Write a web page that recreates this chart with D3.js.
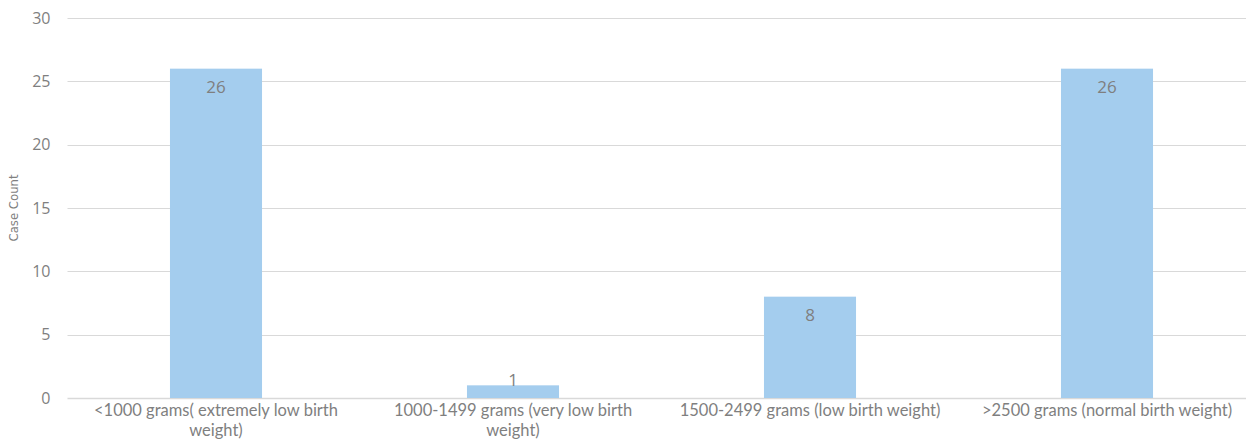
<!DOCTYPE html>
<html>
<head>
    <script src="https://d3js.org/d3.v7.min.js"></script>
    <style>
        body { margin: 0; background: #fff; }
        text { font-family: 'Open Sans', Lato, sans-serif; }
    </style>
</head>
<body>
<script>
    // chart values
    var categories = [
        "<1000 grams( extremely low birth weight)",
        "1000-1499 grams (very low birth weight)",
        "1500-2499 grams (low birth weight)",
        ">2500 grams (normal birth weight)"
    ];
    // how each category label wraps in the original
    var categoryLines = [
        ["<1000 grams( extremely low birth", "weight)"],
        ["1000-1499 grams (very low birth", "weight)"],
        ["1500-2499 grams (low birth weight)"],
        [">2500 grams (normal birth weight)"]
    ];
    var caseCounts = [26, 1, 8, 26];
    var yTicks = [0, 5, 10, 15, 20, 25, 30];

    var W = 1246, H = 441;
    var mLeft = 67.5, mRight = 1255.5, mTop = 18, mBottom = 398;

    var svg = d3.select("body").append("svg")
        .attr("width", W)
        .attr("height", H);

    var x = d3.scaleBand()
        .domain(categories)
        .range([mLeft, mRight])
        .paddingInner(0.69)
        .paddingOuter(0.345);

    var y = d3.scaleLinear()
        .domain([0, 30])
        .range([mBottom, mTop]);

    // gridlines
    svg.append("g")
        .selectAll("line")
        .data(yTicks)
        .enter().append("line")
        .attr("x1", mLeft)
        .attr("x2", mRight)
        .attr("y1", function(d) { return Math.round(y(d)) + 0.5; })
        .attr("y2", function(d) { return Math.round(y(d)) + 0.5; })
        .attr("stroke", "#d9d9d9")
        .attr("stroke-width", function(d) { return d === 0 ? 1.5 : 1; });

    // y axis labels
    var yAxis = svg.append("g")
        .attr("transform", "translate(" + (mLeft - 14) + ",0)")
        .call(d3.axisLeft(y).tickValues(yTicks).tickSize(0).tickPadding(3));
    yAxis.select(".domain").remove();
    yAxis.selectAll("text")
        .attr("fill", "#7f7f7f")
        .style("font-family", "'Open Sans', sans-serif")
        .style("font-size", "16px");

    // bars
    svg.append("g")
        .selectAll("rect")
        .data(caseCounts)
        .enter().append("rect")
        .attr("x", function(d, i) { return x(categories[i]); })
        .attr("width", x.bandwidth())
        .attr("y", function(d) { return y(d); })
        .attr("height", function(d) { return y(0) - y(d); })
        .attr("fill", "#a4cdee");

    // value labels, inside end
    svg.append("g")
        .selectAll("text")
        .data(caseCounts)
        .enter().append("text")
        .attr("x", function(d, i) { return x(categories[i]) + x.bandwidth() / 2; })
        .attr("y", function(d) { return Math.min(y(d) + 24, y(0) - 12); })
        .attr("text-anchor", "middle")
        .attr("fill", "#7f7f7f")
        .style("font-size", "17px")
        .text(function(d) { return d; });

    // category labels, one text per line
    var xlab = svg.append("g")
        .selectAll("g")
        .data(categories)
        .enter().append("g")
        .attr("transform", function(d) {
            return "translate(" + (x(d) + x.bandwidth() / 2) + "," + (mBottom + 18) + ")";
        });

    xlab.each(function(d, i) {
        var g = d3.select(this);
        categoryLines[i].forEach(function(line, j) {
            g.append("text")
                .attr("text-anchor", "middle")
                .attr("fill", "#7f7f7f")
                .style("font-family", "Lato, sans-serif")
                .style("font-size", "16.5px")
                .attr("y", j * 20)
                .text(line);
        });
    });

    // axis title
    svg.append("text")
        .attr("transform", "translate(18," + ((mTop + mBottom) / 2) + ") rotate(-90)")
        .attr("text-anchor", "middle")
        .attr("fill", "#7f7f7f")
        .style("font-family", "'Liberation Sans Narrow', 'DejaVu Sans Condensed', sans-serif")
        .style("font-size", "13px")
        .text("Case Count");
</script>
</body>
</html>
